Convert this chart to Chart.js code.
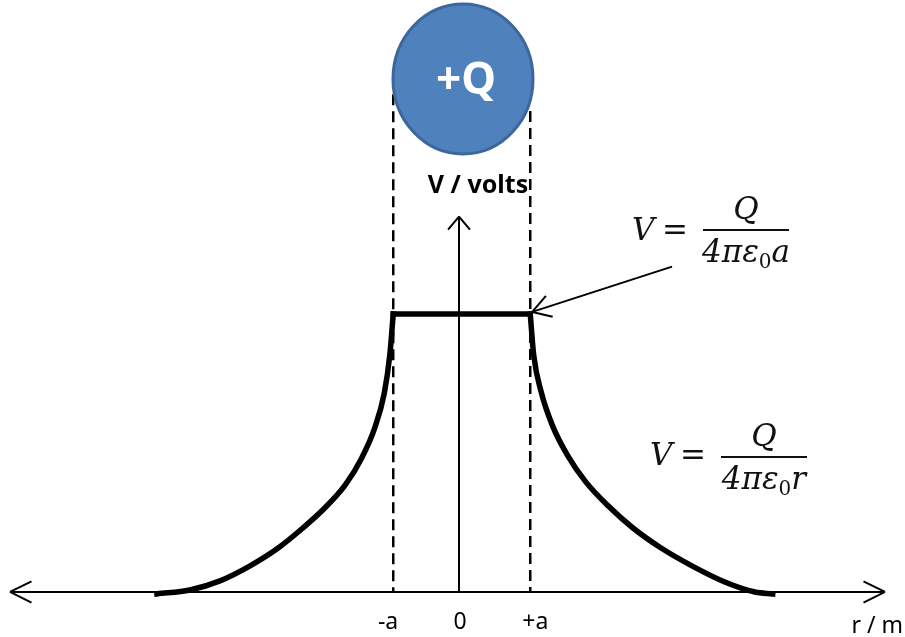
<!DOCTYPE html>
<html>
<head>
<meta charset="utf-8">
<script src="https://cdn.jsdelivr.net/npm/chart.js@4"></script>
<style>
  html, body { margin: 0; padding: 0; background: #fff; }
  #wrap { width: 905px; height: 637px; }
</style>
</head>
<body>
<div id="wrap"><canvas id="potentialChart" width="905" height="637"></canvas></div>
<script>
// r in units of roughly a, V in units of the plateau value
const leftR = [-4.41, -3.93, -3.49, -3.05, -2.64, -2.28, -1.96, -1.66, -1.42, -1.23, -1.09, -1.01, -0.96];
const leftV = [-0.007, 0.007, 0.040, 0.094, 0.158, 0.230, 0.302, 0.385, 0.482, 0.590, 0.716, 0.853, 1.0];
const rightR = [1.04, 1.09, 1.20, 1.36, 1.58, 1.85, 2.18, 2.54, 2.95, 3.40, 3.88, 4.32, 4.58];
const rightV = [1.0, 0.853, 0.719, 0.601, 0.493, 0.396, 0.309, 0.230, 0.158, 0.094, 0.036, 0.0, -0.007];
const plateauV = 1.0;
const edgeR = [-0.96, 1.04];
const edgeTopV = [1.79, 1.73];
const tickR = [-0.96, 0, 1.04];
const tickLabels = ['-a', '0', '+a'];
const axisTitles = ['r / m', 'V / volts'];
const chargeLabel = '+Q';
const yAxisTopV = 1.35;

const ctx = document.getElementById('potentialChart').getContext('2d');

function line(c, x1, y1, x2, y2) {
    c.beginPath();
    c.moveTo(x1, y1);
    c.lineTo(x2, y2);
    c.stroke();
}

function arrowHead(c, tx, ty, ang, len, spread) {
    // ang = direction pointing back along the shaft
    line(c, tx, ty, tx + len * Math.cos(ang + spread), ty + len * Math.sin(ang + spread));
    line(c, tx, ty, tx + len * Math.cos(ang - spread), ty + len * Math.sin(ang - spread));
}

function equation(c, vx, base, lineY, last) {
    const italic = 'italic 31px "DejaVu Serif"';
    c.fillStyle = '#111';
    c.textBaseline = 'alphabetic';
    c.font = italic;
    c.textAlign = 'left';
    c.fillText('V', vx, base);
    c.font = '31px "DejaVu Serif"';
    c.textAlign = 'center';
    c.fillText('=', vx + 43, base);
    const lx1 = vx + 71, lx2 = vx + 157, mid = (lx1 + lx2) / 2;
    c.strokeStyle = '#111';
    c.lineWidth = 1.8;
    line(c, lx1, lineY, lx2, lineY);
    c.font = italic;
    c.fillText('Q', mid, lineY - 11);
    // denominator 4 pi eps_0 a
    const w1 = c.measureText('4πε').width;
    const w3 = c.measureText(last).width;
    c.font = '20px "DejaVu Serif"';
    const w2 = c.measureText('0').width;
    const x = mid - (w1 + w2 + w3) / 2;
    c.textAlign = 'left';
    c.font = italic;
    c.fillText('4πε', x, lineY + 32);
    c.font = '20px "DejaVu Serif"';
    c.fillText('0', x + w1, lineY + 38);
    c.font = italic;
    c.fillText(last, x + w1 + w2, lineY + 32);
}

const sketchPlugin = {
    id: 'sketch',
    beforeDatasetsDraw(chart) {
        const c = chart.ctx;
        const { x, y } = chart.scales;
        const x0 = x.getPixelForValue(0), y0 = y.getPixelForValue(0);
        c.save();
        c.strokeStyle = '#000';
        c.lineWidth = 2;
        // horizontal axis with arrows both ends
        line(c, 10, y0, 885, y0);
        arrowHead(c, 10, y0, 0, 24, 0.46);
        arrowHead(c, 885, y0, Math.PI, 24, 0.46);
        // vertical axis
        const yTop = y.getPixelForValue(yAxisTopV);
        line(c, x0, y0, x0, yTop);
        arrowHead(c, x0, yTop, Math.PI / 2, 17, 0.7);
        c.restore();
    },
    afterDatasetsDraw(chart) {
        const c = chart.ctx;
        const { x, y } = chart.scales;
        const x0 = x.getPixelForValue(0);
        c.save();

        // charged sphere
        c.beginPath();
        c.ellipse(x0 + 4, 79, 70, 75, 0, 0, Math.PI * 2);
        c.fillStyle = '#4f81bd';
        c.fill();
        c.lineWidth = 3;
        c.strokeStyle = '#3c679c';
        c.stroke();
        c.fillStyle = '#fff';
        c.font = 'bold 44px "Noto Sans"';
        c.textAlign = 'center';
        c.textBaseline = 'middle';
        c.fillText(chargeLabel, x0 + 7, 81);

        // axis titles
        c.fillStyle = '#000';
        c.textBaseline = 'alphabetic';
        c.font = 'bold 25px "Noto Sans"';
        c.fillText(axisTitles[1], x0 + 19, 193);
        c.font = '23px "Noto Sans"';
        c.textAlign = 'right';
        c.fillText(axisTitles[0], 903, 633);

        // tick labels
        c.font = '23px "Noto Sans"';
        tickR.forEach((r, i) => {
            const px = x.getPixelForValue(r);
            if (r < 0) { c.textAlign = 'right'; c.fillText(tickLabels[i], px + 5, 629); }
            else if (r > 0) { c.textAlign = 'left'; c.fillText(tickLabels[i], px - 8, 629); }
            else { c.textAlign = 'center'; c.fillText(tickLabels[i], px + 1, 629); }
        });

        // pointer arrow to the plateau corner
        const tipX = x.getPixelForValue(edgeR[1]) + 2, tipY = y.getPixelForValue(plateauV) - 2;
        const fromX = x.getPixelForValue(3.11), fromY = y.getPixelForValue(1.17);
        c.strokeStyle = '#000';
        c.lineWidth = 2;
        line(c, fromX, fromY, tipX, tipY);
        const ang = Math.atan2(fromY - tipY, fromX - tipX);
        arrowHead(c, tipX, tipY, ang, 21, 0.55);

        // formulas
        equation(c, 632, 240, 230, 'a');
        equation(c, 650, 465, 457, 'r');
        c.restore();
    }
};

const curveStyle = {
    showLine: true,
    borderColor: '#000',
    borderWidth: 5.5,
    pointRadius: 0,
    cubicInterpolationMode: 'monotone',
    borderCapStyle: 'square'
};
const dashStyle = {
    showLine: true,
    borderColor: '#000',
    borderWidth: 2.5,
    borderDash: [11, 6],
    pointRadius: 0
};

new Chart(ctx, {
    type: 'scatter',
    data: {
        datasets: [
            Object.assign({ data: leftR.map((r, i) => ({ x: r, y: leftV[i] })) }, curveStyle),
            Object.assign({ data: rightR.map((r, i) => ({ x: r, y: rightV[i] })) }, curveStyle),
            Object.assign({ data: edgeR.map(r => ({ x: r, y: plateauV })) }, curveStyle, { cubicInterpolationMode: 'default', tension: 0 }),
            Object.assign({ data: [{ x: edgeR[0], y: edgeTopV[0] }, { x: edgeR[0], y: 0 }] }, dashStyle),
            Object.assign({ data: [{ x: edgeR[1], y: edgeTopV[1] }, { x: edgeR[1], y: 0 }] }, dashStyle)
        ]
    },
    options: {
        responsive: false,
        animation: false,
        layout: { padding: 0 },
        plugins: { legend: { display: false }, tooltip: { enabled: false } },
        scales: {
            x: { type: 'linear', display: false, min: -6.701, max: 6.511 },
            y: { type: 'linear', display: false, min: -0.162, max: 2.129 }
        }
    },
    plugins: [sketchPlugin]
});
</script>
</body>
</html>
